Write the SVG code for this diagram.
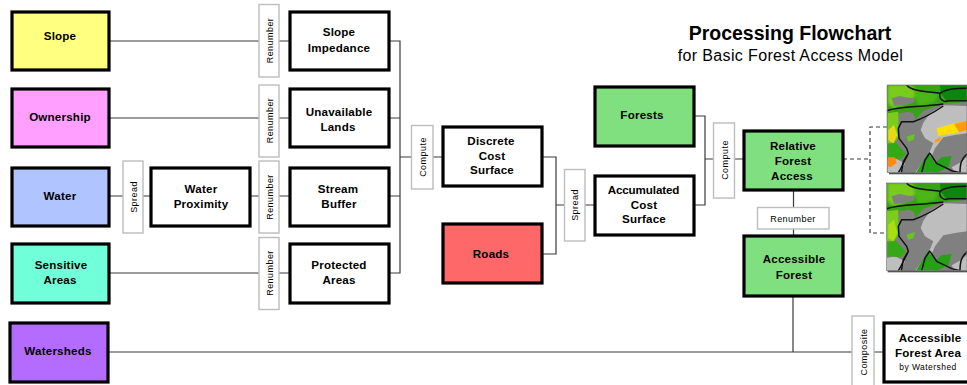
<svg xmlns="http://www.w3.org/2000/svg" width="967" height="385" viewBox="0 0 967 385">
<style>
text{font-family:"Liberation Sans",Arial,sans-serif;fill:#000}
.b{fill:#fff;stroke:#000;stroke-width:3.200}
.t{fill:#fff;stroke:#bdbdbd;stroke-width:1.400}
.n{font-size:11.600px;font-weight:700;text-anchor:middle;letter-spacing:.2px}
.l{font-size:9px;text-anchor:middle;letter-spacing:.45px}
.c{fill:none;stroke:#3a3a3a;stroke-width:1.200}
.d{fill:none;stroke:#3a3a3a;stroke-width:1.200;stroke-dasharray:4 3}
</style>
<defs>
<clipPath id="mc"><rect x="20" y="15" width="241" height="263"/></clipPath>
<filter id="sh" x="-10%" y="-10%" width="120%" height="120%"><feGaussianBlur stdDeviation="2"/></filter>
<filter id="soft" x="-5%" y="-5%" width="110%" height="110%"><feGaussianBlur stdDeviation="1.800"/></filter>
<filter id="bl1" x="-20%" y="-20%" width="140%" height="140%"><feGaussianBlur stdDeviation="5"/></filter>
<g id="mapbase">
<rect x="20" y="15" width="241" height="263" fill="#808080"/>
<path d="M261 78L190 76L150 100L130 128L122 150L135 175L160 190L145 225L105 278L160 278L150 240L165 205L190 172L225 165L261 160Z" fill="#bebebe"/>
<path d="M20 240L45 235L75 250L60 278L20 278Z" fill="#bebebe"/>
<path d="M215 262L245 245L261 230V278H225Z" fill="#bebebe"/>
<path d="M20 15H261V66L190 72L130 92L105 120L70 128L55 105L45 125L55 170L40 192L20 188Z" fill="#35a312"/>
<path d="M23 15H95L115 42L85 68L40 85L23 70Z" fill="#7acc1c" filter="url(#bl1)"/>
<path d="M100 30L175 40L165 65L115 80Z" fill="#4cb616" filter="url(#bl1)"/>
<path d="M180 15H261V62L200 64L182 40Z" fill="#0c860c" filter="url(#soft)"/>
<path d="M20 100L55 95L55 170L40 192L20 188Z" fill="#7ccc1c" filter="url(#soft)"/>
<path d="M35 55L58 48L85 53L105 54L100 68L70 74L42 78Z" fill="#808080"/>
<path d="M55 100L85 95L100 100L108 120L80 128L64 125Z" fill="#808080"/>
<path d="M22 192L48 188L78 222L62 238L22 235Z" fill="#35a812" filter="url(#soft)"/>
<path d="M80 170L105 162L100 180L85 185Z" fill="#66c81e"/>
<path d="M108 278L145 218L165 250L185 232L215 228L205 262L170 278Z" fill="#25a012" filter="url(#soft)"/>
</g>
<g id="maplines" fill="none" stroke="#111" stroke-width="4.500">
<path d="M20 92C60 80 110 82 190 72"/>
<path d="M80 15C95 35 150 35 180 40C175 60 195 68 205 62"/>
<path d="M180 40C200 25 230 25 261 25"/>
<path d="M205 62H261"/>
<path d="M190 78C165 95 130 115 100 125H65L55 145L57 175L80 205L85 220L60 270L55 278"/>
<path d="M82 225L70 245L64 278"/>
<path d="M150 218L135 240L125 278"/>
<path d="M150 220L170 250L195 262L215 272L240 278"/>
<path d="M261 222C245 235 240 250 240 278"/>
</g>
</defs>

<g id="connectors">
<path class="c" d="M109 41H290M109 118H290M109 196H151M250 196H290M109 273H290"/>
<path class="c" d="M389 41H400V273H389M389 118H400M389 196H400M400 157H443"/>
<path class="c" d="M542 157H556V254H542M556 205H595"/>
<path class="c" d="M694 116H705V205H694M705 159H744"/>
<path class="c" d="M793.500 190V236M793 296V352M108 352H884"/>
<path class="d" d="M843 159H870M887 127H870V233H887"/>
</g>

<g id="slope"><rect class="b" x="12" y="12" width="97" height="58" style="fill:#ffff80"/><text class="n" x="60" y="40">Slope</text></g>
<g id="ownership"><rect class="b" x="12" y="89" width="97" height="58" style="fill:#ff9fff"/><text class="n" x="60" y="121">Ownership</text></g>
<g id="water"><rect class="b" x="12" y="168" width="97" height="58" style="fill:#b0c4ff"/><text class="n" x="60" y="200">Water</text></g>
<g id="sensitive"><rect class="b" x="12" y="244" width="97" height="59" style="fill:#70ffd8"/><text class="n" x="61" y="269">Sensitive</text><text class="n" x="60" y="284">Areas</text></g>
<g id="watersheds"><rect class="b" x="10" y="323" width="98" height="59" style="fill:#b46cff"/><text class="n" x="58" y="355">Watersheds</text></g>

<g id="tag-spread1"><rect class="t" x="123" y="161" width="20" height="72"/><text class="l" transform="translate(136.500 197) rotate(-90)">Spread</text></g>
<g id="tag-renumber1"><rect class="t" x="259" y="4.500" width="20" height="72.500"/><text class="l" transform="translate(273 40.500) rotate(-90)">Renumber</text></g>
<g id="tag-renumber2"><rect class="t" x="259" y="85" width="20" height="72"/><text class="l" transform="translate(273 120.500) rotate(-90)">Renumber</text></g>
<g id="tag-renumber3"><rect class="t" x="259" y="161" width="20" height="72"/><text class="l" transform="translate(273 197) rotate(-90)">Renumber</text></g>
<g id="tag-renumber4"><rect class="t" x="259" y="237.500" width="20" height="72"/><text class="l" transform="translate(273 273) rotate(-90)">Renumber</text></g>

<g id="slope-impedance"><rect class="b" x="290" y="12" width="99" height="58"/><text class="n" x="339" y="36">Slope</text><text class="n" x="339" y="51.500">Impedance</text></g>
<g id="unavailable"><rect class="b" x="290" y="89" width="99" height="58"/><text class="n" x="339" y="115.500">Unavailable</text><text class="n" x="338" y="131">Lands</text></g>
<g id="water-proximity"><rect class="b" x="151" y="168" width="99" height="58"/><text class="n" x="201" y="193">Water</text><text class="n" x="201" y="208">Proximity</text></g>
<g id="stream-buffer"><rect class="b" x="290" y="168" width="99" height="58"/><text class="n" x="338" y="193">Stream</text><text class="n" x="339" y="208">Buffer</text></g>
<g id="protected"><rect class="b" x="290" y="244" width="99" height="59"/><text class="n" x="339" y="269">Protected</text><text class="n" x="339" y="284">Areas</text></g>

<g id="tag-compute1"><rect class="t" x="411.500" y="125.500" width="21.500" height="63.500"/><text class="l" transform="translate(426 157) rotate(-90)">Compute</text></g>
<g id="discrete"><rect class="b" x="443" y="127" width="99" height="59"/><text class="n" x="491" y="145">Discrete</text><text class="n" x="492" y="159.500">Cost</text><text class="n" x="492" y="174">Surface</text></g>
<g id="roads"><rect class="b" x="443" y="224" width="99" height="59" style="fill:#ff6868"/><text class="n" x="491" y="258">Roads</text></g>
<g id="tag-spread2"><rect class="t" x="564.500" y="169.500" width="20.500" height="71.500"/><text class="l" transform="translate(578 205) rotate(-90)">Spread</text></g>
<g id="forests"><rect class="b" x="595" y="87" width="99" height="59" style="fill:#80e080"/><text class="n" x="642" y="119">Forests</text></g>
<g id="accumulated"><rect class="b" x="595" y="176" width="99" height="59"/><text class="n" x="643.500" y="194" style="letter-spacing:-.1px">Accumulated</text><text class="n" x="644" y="209">Cost</text><text class="n" x="644" y="223">Surface</text></g>
<g id="tag-compute2"><rect class="t" x="713.500" y="123" width="21" height="75"/><text class="l" transform="translate(728 160) rotate(-90)">Compute</text></g>
<g id="relative"><rect class="b" x="744" y="131" width="99" height="59" style="fill:#80e080"/><text class="n" x="793" y="150">Relative</text><text class="n" x="793" y="165">Forest</text><text class="n" x="792" y="180">Access</text></g>
<g id="tag-renumber5"><rect class="t" x="757.500" y="207.500" width="71.500" height="21.500"/><text class="l" x="793" y="222">Renumber</text></g>
<g id="accessible"><rect class="b" x="744" y="236" width="99" height="60" style="fill:#80e080"/><text class="n" x="794" y="263">Accessible</text><text class="n" x="794" y="279">Forest</text></g>
<g id="tag-composite"><rect class="t" x="852" y="316" width="22" height="74"/><text class="l" transform="translate(866.500 352) rotate(-90)">Composite</text></g>
<g id="area"><rect class="b" x="884" y="323" width="90" height="59"/><text class="n" x="930" y="342">Accessible</text><text class="n" x="928" y="357">Forest Area</text><text x="928" y="370" font-size="8.500" text-anchor="middle" letter-spacing=".45">by Watershed</text></g>

<g id="map1" transform="translate(880 80) scale(.33333)">
<rect x="27" y="20" width="238" height="263" fill="#555" filter="url(#sh)"/>
<g clip-path="url(#mc)">
<use href="#mapbase"/>
<path d="M170 145L215 132L261 122V150L225 160L175 167Z" fill="#ffe000" filter="url(#soft)"/>
<path d="M222 132L261 122V150L238 157Z" fill="#ff9a10" filter="url(#soft)"/>
<path d="M165 180L185 170L180 182L165 188Z" fill="#ff9a10"/>
<path d="M25 150L42 135L52 165L40 190L25 180Z" fill="#e8d814" filter="url(#soft)"/>
<path d="M23 232L45 232L50 250L30 262L23 258Z" fill="#ff8a10" filter="url(#soft)"/>
<use href="#maplines"/>
</g>
<rect x="23" y="15" width="238" height="263" fill="#0000" stroke="#777" stroke-width="2"/>
</g>
<g id="map2" transform="translate(880 178) scale(.33333)">
<rect x="23" y="20" width="242" height="263" fill="#555" filter="url(#sh)"/>
<g clip-path="url(#mc)">
<use href="#mapbase"/>
<path d="M25 140L42 125L52 165L40 190L25 180Z" fill="#a8e010" filter="url(#soft)"/>
<use href="#maplines"/>
</g>
<rect x="20" y="15" width="241" height="263" fill="none" stroke="#777" stroke-width="2"/>
</g>

<g id="title"><text x="790" y="40" font-size="19.500" font-weight="700" text-anchor="middle">Processing Flowchart</text><text x="790.500" y="60.500" font-size="16" text-anchor="middle" letter-spacing=".35">for Basic Forest Access Model</text></g>
</svg>
